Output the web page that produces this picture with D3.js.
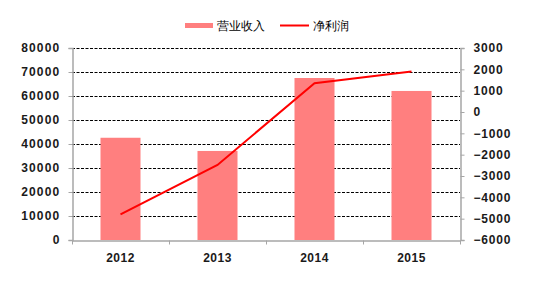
<!DOCTYPE html>
<html>
<head>
<meta charset="utf-8">
<script src="https://cdn.jsdelivr.net/npm/d3@7"></script>
<style>
  body { margin: 0; background: #fff; }
  text { font-family: "Liberation Sans", Arial, sans-serif; }
</style>
</head>
<body>
<svg id="chart" width="558" height="282"></svg>
<script>
const years = ["2012", "2013", "2014", "2015"]
const revenue = [42600, 37100, 67500, 62100]
const netProfit = [-4800, -2480, 1350, 1900]
const leftTicks = [0, 10000, 20000, 30000, 40000, 50000, 60000, 70000, 80000]
const rightTicks = [-6000, -5000, -4000, -3000, -2000, -1000, 0, 1000, 2000, 3000]

const svg = d3.select("#chart")
const plotLeft = 72, plotRight = 460, plotTop = 48, plotBottom = 240

const x = d3.scaleBand().domain(years).range([plotLeft, plotRight])
const yL = d3.scaleLinear().domain([0, 80000]).range([plotBottom, plotTop])
const yR = d3.scaleLinear().domain([-6000, 3000]).range([plotBottom, plotTop])

// grid lines
svg.append("g")
	.selectAll("line")
	.data(leftTicks.filter(d => d > 0))
	.join("line")
	.attr("x1", plotLeft)
	.attr("x2", plotRight)
	.attr("y1", d => Math.round(yL(d)) + 0.5)
	.attr("y2", d => Math.round(yL(d)) + 0.5)
	.attr("stroke", "#000")
	.attr("stroke-dasharray", "3,1.5")
	.attr("stroke-width", 1)

// bars
const barW = 40
svg.append("g")
	.selectAll("rect")
	.data(years)
	.join("rect")
	.attr("x", d => x(d) + x.bandwidth() / 2 - barW / 2)
	.attr("width", barW)
	.attr("y", (d, i) => yL(revenue[i]))
	.attr("height", (d, i) => plotBottom - yL(revenue[i]))
	.attr("fill", "#ff7f7f")

// line
const line = d3.line()
	.x(d => x(d.year) + x.bandwidth() / 2)
	.y(d => yR(d.v))
svg.append("path")
	.datum(years.map((y, i) => ({ year: y, v: netProfit[i] })))
	.attr("d", line)
	.attr("fill", "none")
	.attr("stroke", "#ff0000")
	.attr("stroke-width", 2)

// axes
const axisColor = "#a6a6a6"
const gL = svg.append("g")
	.attr("transform", `translate(${plotLeft + 0.5},0)`)
	.call(d3.axisLeft(yL).tickValues(leftTicks).tickFormat(d3.format("d")).tickSize(4).tickPadding(8))
const gR = svg.append("g")
	.attr("transform", `translate(${plotRight + 0.5},0)`)
	.call(d3.axisRight(yR).tickValues(rightTicks).tickFormat(d3.format("d")).tickSize(4).tickPadding(9))
const gB = svg.append("g")
	.attr("transform", `translate(0,${plotBottom + 0.5})`)
	.call(d3.axisBottom(x).tickSize(0).tickPadding(13))

gB.append("g")
	.selectAll("line")
	.data(years.concat(["end"]))
	.join("line")
	.attr("x1", (d, i) => plotLeft + i * x.bandwidth() + 0.5)
	.attr("x2", (d, i) => plotLeft + i * x.bandwidth() + 0.5)
	.attr("y1", 0)
	.attr("y2", 4)
	.attr("stroke", axisColor)

;[gL, gR, gB].forEach(g => {
	g.select(".domain").attr("stroke", axisColor).attr("stroke-width", 1.5)
	g.selectAll(".tick line").attr("stroke", axisColor)
	g.selectAll("text")
		.attr("font-size", 12)
		.attr("font-family", "'Liberation Sans', Arial, sans-serif")
		.attr("font-weight", "bold")
		.attr("fill", "#1a1a1a")
})
gL.selectAll("text").attr("letter-spacing", 1.2)
gR.selectAll("text").attr("letter-spacing", 0.8)
gB.selectAll("text").attr("letter-spacing", 0.5)

// legend
const legend = svg.append("g")
legend.append("rect")
	.attr("x", 185).attr("y", 23).attr("width", 28).attr("height", 5)
	.attr("fill", "#ff7f7f")
legend.append("text")
	.attr("x", 217).attr("y", 30)
	.attr("font-size", 12)
	.attr("font-family", "'Noto Sans CJK SC', sans-serif")
	.text("营业收入")
legend.append("line")
	.attr("x1", 280).attr("x2", 309).attr("y1", 25.5).attr("y2", 25.5)
	.attr("stroke", "#ff0000").attr("stroke-width", 2)
legend.append("text")
	.attr("x", 313).attr("y", 30)
	.attr("font-size", 12)
	.attr("font-family", "'Noto Sans CJK SC', sans-serif")
	.text("净利润")
</script>
</body>
</html>
